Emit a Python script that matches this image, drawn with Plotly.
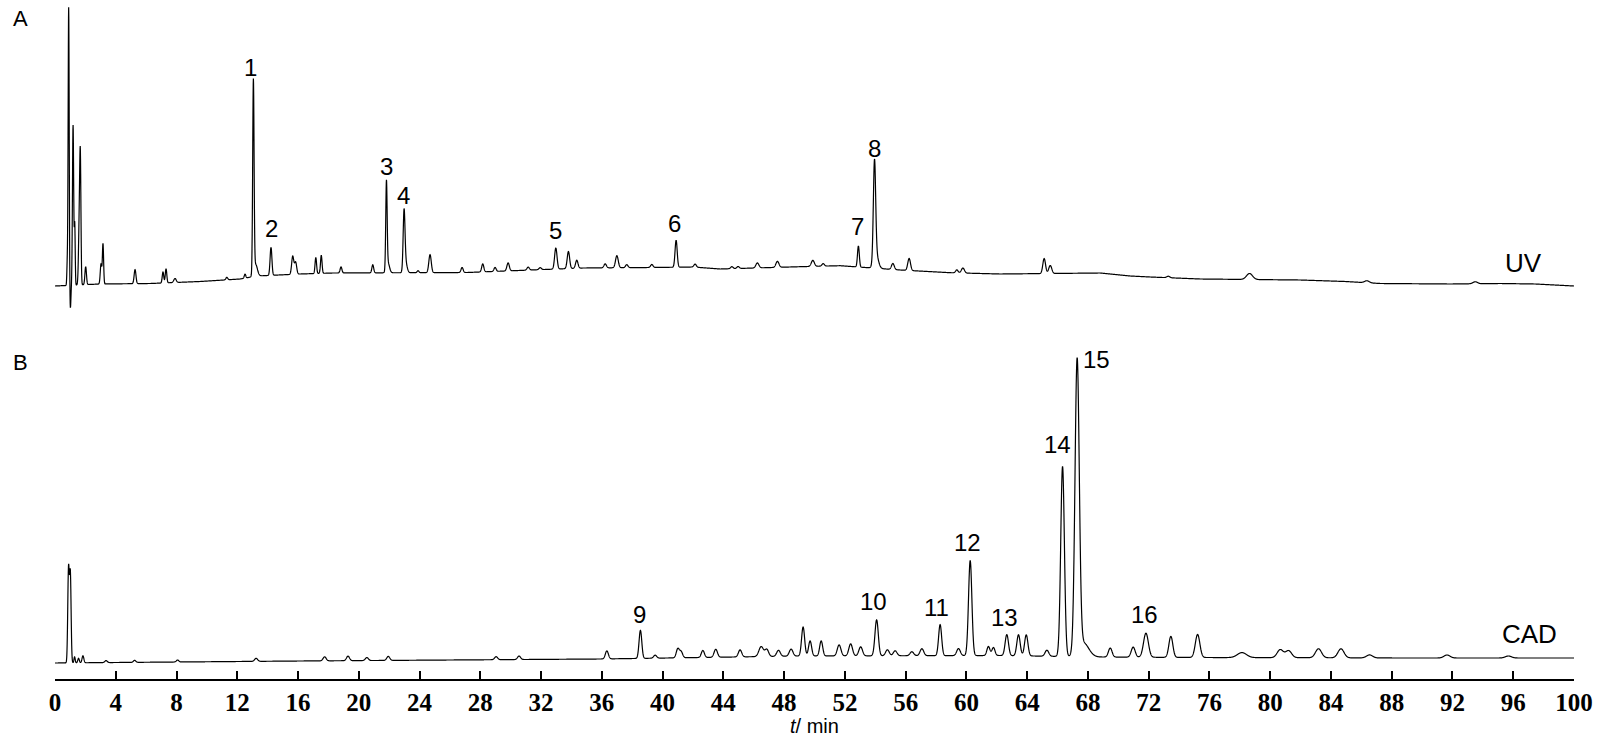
import numpy as np
import plotly.graph_objects as go

# ---------------- data ----------------
# UV chromatogram: baseline points (min, signal) and peaks (time, height, sigma)
UV_BASE_T = [0, 2.96, 6.26, 9.55, 12.18, 13.3, 16.13, 18.3, 27.13, 34.77, 39.18, 42.01,
             43.79, 49.05, 51.69, 55.64, 58.93, 62.22, 68.81, 70.78, 72.1, 75.4, 81.98,
             84.94, 87.25, 91.86, 95.15, 97.45, 100]
UV_BASE_V = [0, 2, 2.5, 4.5, 7, 10, 12, 13, 13.5, 18, 18.5, 19, 17, 19.3, 20.3, 16, 13.3,
             12, 13, 10, 9, 7, 6, 4.5, 2.5, 2, 2.5, 2, 0]
UV_PEAK_T = [0.81, 0.90, 1.01, 1.19, 1.30, 1.60, 1.67, 2.02, 3.03, 3.16, 5.27, 7.11, 7.31,
             7.90, 11.31, 12.51, 13.06, 13.20, 14.22, 15.65, 15.84, 17.17, 17.53, 18.83,
             20.92, 21.82, 21.92, 22.98, 23.08, 23.90, 24.69, 26.80, 28.16, 28.97, 29.83,
             31.15, 31.94, 32.97, 33.80, 34.35, 36.22, 36.99, 37.64, 39.29, 40.89, 42.14,
             44.56, 44.97, 46.24, 47.56, 49.89, 50.57, 52.89, 53.95, 54.05, 55.16, 56.23,
             59.37, 59.77, 65.12, 65.52, 73.29, 78.64, 86.37, 93.50]
UV_PEAK_H = [22, 278, -24, 160, 60, 62, 112, 18, 20, 40, 14, 11, 14,
             4, 2.5, 4, 192, 12, 28, 18, 12, 16, 18, 6,
             8, 87, 10, 58, 10, 2, 18, 5, 8, 4, 8,
             3, 2, 21, 17, 8, 4, 12, 3, 3, 27, 3,
             2, 2, 5, 6, 6, 2.5, 21, 98, 14, 6, 12,
             3, 5, 15, 8, 1.5, 6, 2, 2]
UV_PEAK_W = [0.03, 0.035, 0.035, 0.04, 0.03, 0.05, 0.04, 0.05, 0.05, 0.04, 0.06, 0.05, 0.05,
             0.08, 0.06, 0.05, 0.045, 0.12, 0.06, 0.07, 0.07, 0.05, 0.05, 0.06,
             0.06, 0.045, 0.1, 0.06, 0.1, 0.06, 0.08, 0.07, 0.07, 0.07, 0.08,
             0.08, 0.08, 0.08, 0.08, 0.08, 0.08, 0.09, 0.08, 0.08, 0.07, 0.08,
             0.08, 0.08, 0.1, 0.1, 0.1, 0.08, 0.06, 0.075, 0.15, 0.09, 0.09,
             0.08, 0.1, 0.09, 0.1, 0.1, 0.2, 0.15, 0.15]

# CAD chromatogram
CAD_BASE_T = [0, 16.13, 35.89, 49.05, 62.22, 68.81, 75.4, 81.98, 88.56, 100]
CAD_BASE_V = [0, 2, 4, 7, 7.5, 6, 5.5, 5.3, 5, 5]
CAD_PEAK_T = [0.89, 1.01, 1.29, 1.55, 1.84, 3.36, 5.24, 8.07, 13.24, 17.75, 19.29, 20.53,
              21.94, 29.04, 30.55, 36.33, 38.54, 39.51, 41.00, 41.22, 42.65, 43.50, 45.10,
              46.49, 46.86, 47.63, 48.46, 49.25, 49.71, 50.44, 51.62, 52.38, 53.04, 54.09,
              54.80, 55.31, 56.41, 57.07, 58.27, 59.48, 60.25, 61.45, 61.78, 62.66, 63.43,
              63.94, 65.30, 66.33, 67.29, 67.70, 69.47, 70.98, 71.82, 73.46, 75.22, 78.14,
              80.66, 81.21, 83.18, 84.66, 86.54, 91.64, 95.68]
CAD_PEAK_H = [93, 88, 6, 4.5, 7, 2, 2, 2, 3, 4, 4.5, 3,
              4, 3, 3.5, 8, 28, 3, 9, 6, 7, 8, 7,
              10, 7, 6, 7, 29, 15, 15, 11, 12, 9, 36,
              6, 5, 4, 7, 31, 7, 95, 9, 8, 21, 21,
              21, 6, 190, 292, 14, 9, 10, 24, 21, 23, 5,
              8, 7, 9, 9, 3, 3, 2]
CAD_PEAK_W = [0.05, 0.05, 0.04, 0.05, 0.06, 0.08, 0.08, 0.08, 0.1, 0.1, 0.1, 0.1,
              0.1, 0.1, 0.1, 0.1, 0.09, 0.1, 0.1, 0.1, 0.1, 0.11, 0.11,
              0.15, 0.12, 0.12, 0.12, 0.1, 0.1, 0.1, 0.12, 0.12, 0.12, 0.11,
              0.12, 0.12, 0.12, 0.12, 0.1, 0.12, 0.11, 0.1, 0.1, 0.11, 0.11,
              0.11, 0.12, 0.12, 0.14, 0.35, 0.12, 0.13, 0.16, 0.13, 0.15, 0.3,
              0.2, 0.2, 0.2, 0.2, 0.2, 0.2, 0.2]

# peak numbers
UV_LABELS = ["1", "2", "3", "4", "5", "6", "7", "8"]
CAD_LABELS = ["9", "10", "11", "12", "13", "14", "15", "16"]
TICK_VALUES = list(range(0, 101, 4))

# ---------------- layout positions (not data) ----------------
UV_LABEL_POS = [(12.84, 219), (14.22, 58), (21.83, 120), (22.95, 91), (32.96, 56),
                (40.79, 63), (52.84, 60), (53.96, 137.5)]
CAD_LABEL_POS = [(38.49, 49), (53.89, 62), (58.04, 56), (60.05, 121), (62.49, 46),
                 (66.01, 219), (68.54, 304), (71.74, 49)]

PLOT_H = 679.0
t = np.round(np.arange(0, 100.0001, 0.01), 2)


def trace_signal(bt, bv, pt, ph, pw):
    y = np.interp(t, bt, bv)
    for c, h, s in zip(pt, ph, pw):
        y = y + h * np.exp(-0.5 * ((t - c) / s) ** 2)
    return y


uv = trace_signal(UV_BASE_T, UV_BASE_V, UV_PEAK_T, UV_PEAK_H, UV_PEAK_W)
cad = trace_signal(CAD_BASE_T, CAD_BASE_V, CAD_PEAK_T, CAD_PEAK_H, CAD_PEAK_W)

fig = go.Figure()
fig.add_trace(go.Scatter(x=t, y=uv, mode="lines", xaxis="x", yaxis="y",
                         line=dict(color="black", width=1.2, simplify=False),
                         hoverinfo="skip", showlegend=False))
fig.add_trace(go.Scatter(x=t, y=cad, mode="lines", xaxis="x", yaxis="y2",
                         line=dict(color="black", width=1.2, simplify=False),
                         hoverinfo="skip", showlegend=False))

SANS = "Liberation Sans, Arial, sans-serif"
lab_font = dict(family=SANS, size=24, color="black")
ann = []
for txt, (x, y) in zip(UV_LABELS, UV_LABEL_POS):
    ann.append(dict(x=x, y=y, xref="x", yref="y", text=txt, showarrow=False,
                    font=lab_font, xanchor="center", yanchor="middle"))
for txt, (x, y) in zip(CAD_LABELS, CAD_LABEL_POS):
    ann.append(dict(x=x, y=y, xref="x", yref="y2", text=txt, showarrow=False,
                    font=lab_font, xanchor="center", yanchor="middle"))
ann.append(dict(x=96.69, y=23, xref="x", yref="y", text="UV", showarrow=False,
                font=dict(family=SANS, size=26, color="black"),
                xanchor="center", yanchor="middle"))
ann.append(dict(x=97.09, y=29, xref="x", yref="y2", text="CAD", showarrow=False,
                font=dict(family=SANS, size=26, color="black"),
                xanchor="center", yanchor="middle"))
ann.append(dict(x=-35 / 1519, y=1 - 18 / PLOT_H, xref="paper", yref="paper", text="A",
                showarrow=False, xanchor="center", yanchor="middle",
                font=dict(family=SANS, size=22, color="black")))
ann.append(dict(x=-35 / 1519, y=1 - 362 / PLOT_H, xref="paper", yref="paper", text="B",
                showarrow=False, xanchor="center", yanchor="middle",
                font=dict(family=SANS, size=22, color="black")))
ann.append(dict(x=0.5, y=-60 / PLOT_H, xref="paper", yref="paper",
                text="<i>t</i>/ min", showarrow=False, xanchor="center", yanchor="bottom",
                font=dict(family=SANS, size=20, color="black")))

fig.update_layout(
    width=1600, height=739,
    margin=dict(l=55, r=26, t=0, b=60),
    paper_bgcolor="white", plot_bgcolor="white",
    annotations=ann,
    xaxis=dict(range=[0, 100], domain=[0, 1], anchor="y2",
               tickvals=TICK_VALUES, ticktext=[str(v) for v in TICK_VALUES],
               ticks="inside", ticklen=8, tickwidth=2, tickcolor="black",
               showline=True, linecolor="black", linewidth=2,
               showgrid=False, zeroline=False,
               tickfont=dict(family="Liberation Serif, Times New Roman, serif",
                             size=25, color="black", weight=700)),
    yaxis=dict(domain=[1 - 315 / PLOT_H, 1], range=[-29, 286], visible=False,
               showgrid=False, zeroline=False),
    yaxis2=dict(domain=[0, 1 - 335 / PLOT_H], range=[-16, 328], visible=False,
                showgrid=False, zeroline=False),
)

fig.write_html("out.html", config={"displayModeBar": False},
               post_script="document.body.style.margin='0';document.body.style.overflow='hidden';")
